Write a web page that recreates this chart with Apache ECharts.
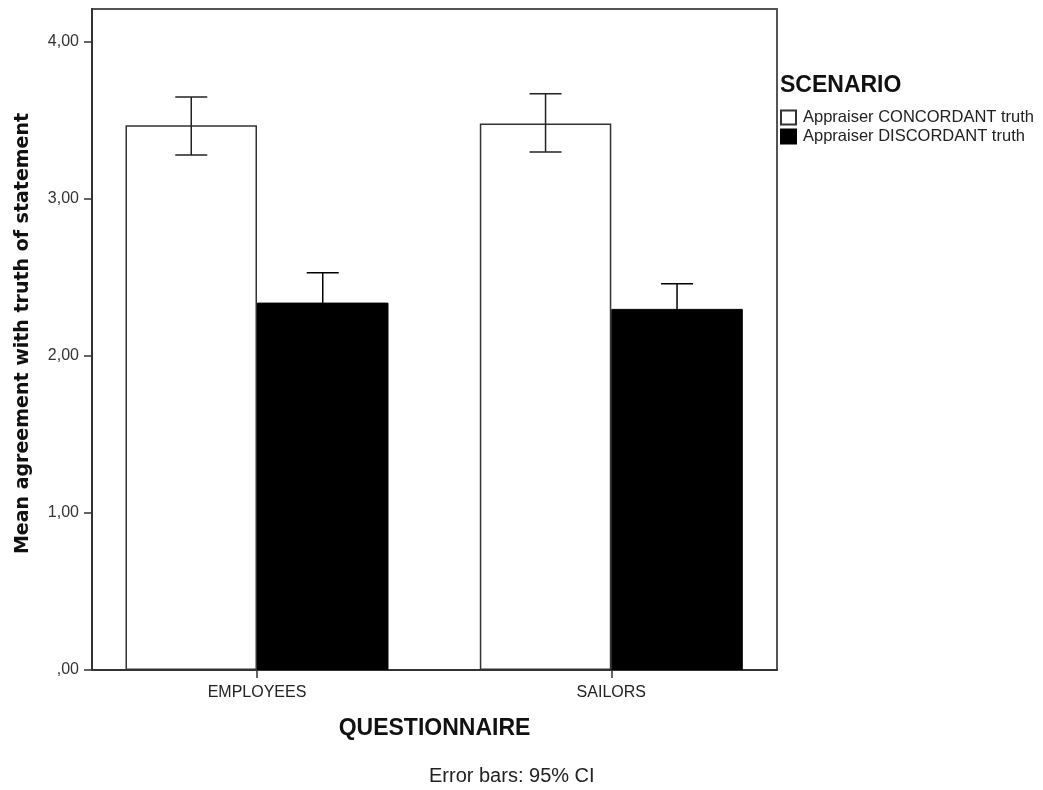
<!DOCTYPE html>
<html>
<head>
<meta charset="utf-8">
<script src="https://cdn.jsdelivr.net/npm/echarts@6/dist/echarts.min.js"></script>
<style>
html,body{margin:0;padding:0;background:#fff;}
#chart{width:1043px;height:790px;}
</style>
</head>
<body>
<div id="chart"></div>
<script>
// ---- data ----
const categories = ['EMPLOYEES', 'SAILORS'];
const seriesNames = ['Appraiser CONCORDANT truth', 'Appraiser DISCORDANT truth'];
const concordantMean = [3.47, 3.48];
const concordantLow  = [3.28, 3.30];
const concordantHigh = [3.65, 3.67];
const discordantMean = [2.34, 2.30];
const discordantLow  = [2.15, 2.13];
const discordantHigh = [2.53, 2.46];
const yTickValues = [0, 1, 2, 3, 4];
const legendTitle = 'SCENARIO';
const yAxisTitle = 'Mean agreement with truth of statement';
const xAxisTitle = 'QUESTIONNAIRE';
const footnote = 'Error bars: 95% CI';

// ---- layout / style ----
const SANS = "'Liberation Sans', Arial, sans-serif";
const BAR_W = 131.5;
const catPos = categories.map((c, i) => i + 1);

function fmtTick(v) {
  return v.toFixed(2).replace('.', ',').replace(/^0/, '');
}

function errorBarSeries(name, lows, highs, side, color) {
  return {
    type: 'custom',
    name: name + ' CI',
    z: 10,
    silent: true,
    data: catPos.map((x, i) => [x, lows[i], highs[i]]),
    renderItem: function (params, api) {
      const x = api.value(0);
      const lo = api.coord([x, api.value(1)]);
      const hi = api.coord([x, api.value(2)]);
      const cx = lo[0] + side * BAR_W / 2;
      const cap = 16;
      const style = { stroke: color, lineWidth: 1.5 };
      return {
        type: 'group',
        children: [
          { type: 'line', shape: { x1: cx, y1: lo[1], x2: cx, y2: hi[1] }, style: style },
          { type: 'line', shape: { x1: cx - cap, y1: hi[1], x2: cx + cap, y2: hi[1] }, style: style },
          { type: 'line', shape: { x1: cx - cap, y1: lo[1], x2: cx + cap, y2: lo[1] }, style: style }
        ]
      };
    }
  };
}

const chart = echarts.init(document.getElementById('chart'), null, { renderer: 'canvas' });
chart.setOption({
  animation: false,
  backgroundColor: '#ffffff',
  title: {
    text: legendTitle,
    left: 780,
    top: 74,
    padding: 0,
    textStyle: { fontFamily: SANS, fontSize: 23, fontWeight: 'bold', color: '#111' }
  },
  legend: {
    orient: 'vertical',
    left: 780,
    top: 109,
    padding: 0,
    itemWidth: 15,
    itemHeight: 14,
    itemGap: 2,
    icon: 'rect',
    selectedMode: false,
    data: seriesNames,
    textStyle: { fontFamily: SANS, fontSize: 16.5, color: '#222', lineHeight: 14, padding: [0, 0, 0, 2] }
  },
  grid: {
    left: 92,
    top: 9,
    width: 685,
    bottom: 120,
    show: true,
    borderColor: '#555',
    borderWidth: 2,
    backgroundColor: '#fff'
  },
  xAxis: {
    type: 'value',
    min: 0.5343,
    max: 2.4677,
    name: xAxisTitle,
    nameLocation: 'middle',
    nameGap: 47,
    nameTextStyle: { fontFamily: SANS, fontSize: 23, fontWeight: 'bold', color: '#111' },
    splitLine: { show: false },
    axisLine: { show: true, onZero: false, lineStyle: { color: '#333', width: 2 } },
    axisTick: { show: true, length: 8, customValues: catPos, lineStyle: { color: '#333', width: 1.5 } },
    axisLabel: {
      customValues: catPos,
      margin: 15,
      fontFamily: SANS,
      fontSize: 16,
      color: '#222',
      formatter: function (v) { return categories[Math.round(v) - 1] || ''; }
    }
  },
  yAxis: {
    type: 'value',
    min: 0,
    max: 4.21,
    interval: 1,
    name: yAxisTitle,
    nameLocation: 'middle',
    nameGap: 59,
    nameTextStyle: {
      fontFamily: "'DejaVu Sans', sans-serif",
      fontSize: 19,
      fontWeight: 'bold',
      color: '#111',
      padding: [0, 0, 0, 12]
    },
    splitLine: { show: false },
    axisLine: { show: true, lineStyle: { color: '#333', width: 2 } },
    axisTick: { show: true, length: 8, customValues: yTickValues, lineStyle: { color: '#333', width: 1.5 } },
    axisLabel: {
      customValues: yTickValues,
      margin: 13,
      fontFamily: SANS,
      fontSize: 16,
      color: '#333',
      formatter: fmtTick
    }
  },
  series: [
    {
      type: 'bar',
      name: seriesNames[0],
      barWidth: BAR_W,
      barGap: '0%',
      data: catPos.map((x, i) => [x, concordantMean[i]]),
      itemStyle: { color: '#ffffff', borderColor: '#333', borderWidth: 1.5 }
    },
    {
      type: 'bar',
      name: seriesNames[1],
      barWidth: BAR_W,
      barGap: '0%',
      data: catPos.map((x, i) => [x, discordantMean[i]]),
      itemStyle: { color: '#000000', borderColor: '#000', borderWidth: 1 }
    },
    errorBarSeries(seriesNames[0], concordantLow, concordantHigh, -1, '#222'),
    errorBarSeries(seriesNames[1], discordantLow, discordantHigh, 1, '#000')
  ],
  graphic: [
    {
      type: 'text',
      left: 429,
      top: 766,
      style: { text: footnote, fontFamily: SANS, fontSize: 20, fill: '#222' }
    }
  ]
});
</script>
</body>
</html>
